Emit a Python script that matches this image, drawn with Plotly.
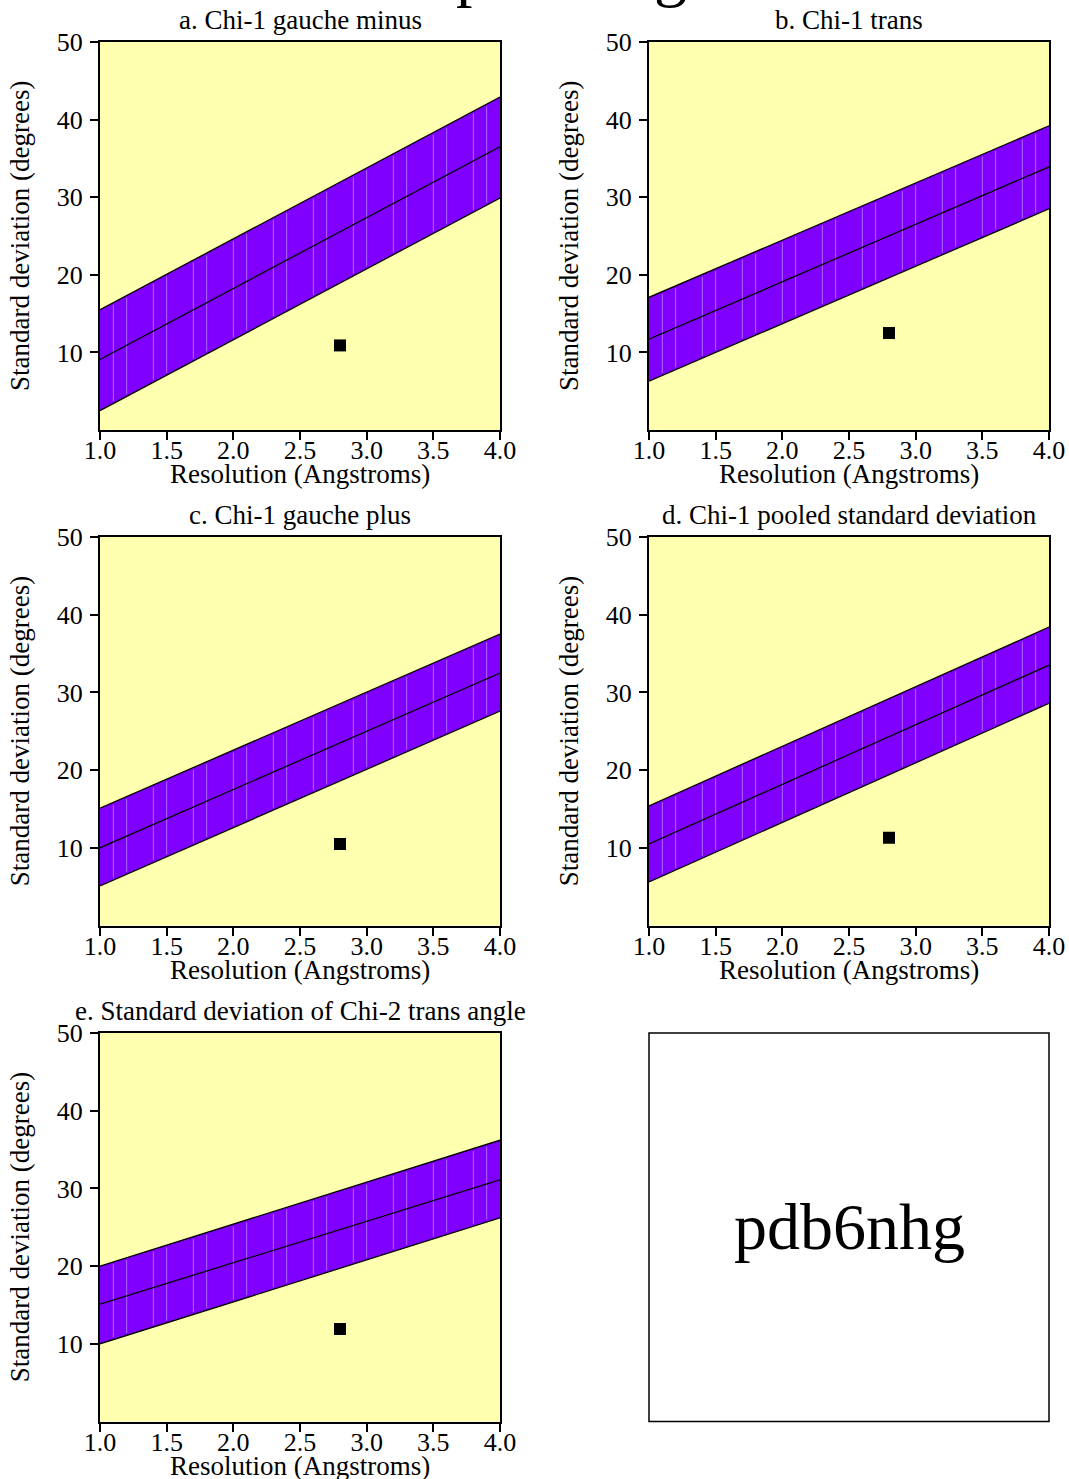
import plotly.graph_objects as go
import numpy as np

W, H = 1069, 1479

panel_titles = ["a. Chi-1 gauche minus", "b. Chi-1 trans", "c. Chi-1 gauche plus",
                "d. Chi-1 pooled standard deviation", "e. Standard deviation of Chi-2 trans angle"]
res_ends = [1.0, 4.0]
band_lower = [[2.5, 29.9], [6.3, 28.5], [5.1, 27.6], [5.6, 28.6], [10.0, 26.2]]
band_center = [[9.1, 36.5], [11.7, 33.9], [10.0, 32.5], [10.5, 33.5], [15.1, 31.1]]
band_upper = [[15.5, 42.9], [17.1, 39.2], [15.1, 37.5], [15.4, 38.4], [20.0, 36.2]]
point_res = [2.8, 2.8, 2.8, 2.8, 2.8]
point_sd = [10.9, 12.5, 10.5, 11.3, 11.9]
x_ticks = [1.0, 1.5, 2.0, 2.5, 3.0, 3.5, 4.0]
y_ticks = [10, 20, 30, 40, 50]
x_title = "Resolution (Angstroms)"
y_title = "Standard deviation (degrees)"
pdb_id = "pdb6nhg"

FONT = "Liberation Serif"
YELLOW = "#ffffb0"
VIOLET = "#8000ff"

# pixel boxes (left, right, top, bottom)
cols = [(100, 500), (649, 1049)]
rows = [(42, 430), (537, 925.5), (1033, 1421.5)]
boxes = [(cols[0], rows[0]), (cols[1], rows[0]), (cols[0], rows[1]), (cols[1], rows[1]), (cols[0], rows[2])]


def px(x):
    return x / W


def py(y):
    return 1 - y / H


fig = go.Figure()
annotations = []
for i in range(5):
    (l, r), (t, b) = boxes[i]
    n = "" if i == 0 else str(i + 1)
    xa, ya = "x" + n, "y" + n
    lo, ce, up = band_lower[i], band_center[i], band_upper[i]
    fig.add_trace(go.Scatter(x=res_ends, y=lo, mode="lines", line=dict(color="black", width=1.3),
                             xaxis=xa, yaxis=ya, showlegend=False, hoverinfo="skip"))
    fig.add_trace(go.Scatter(x=res_ends, y=up, mode="lines", line=dict(color="black", width=1.3),
                             fill="tonexty", fillcolor=VIOLET,
                             xaxis=xa, yaxis=ya, showlegend=False, hoverinfo="skip"))
    # faint seams between the band's drawn segments
    sx, sy = [], []
    for k in range(1, 30):
        if k % 3 == 0:
            continue
        xv = res_ends[0] + k * (res_ends[1] - res_ends[0]) / 30
        yl = np.interp(xv, res_ends, lo)
        yu = np.interp(xv, res_ends, up)
        sx += [xv, xv, None]
        sy += [yl + 0.3, yu - 0.3, None]
    fig.add_trace(go.Scatter(x=sx, y=sy, mode="lines", line=dict(color="rgba(185,140,255,0.75)", width=1),
                             xaxis=xa, yaxis=ya, showlegend=False, hoverinfo="skip"))
    fig.add_trace(go.Scatter(x=res_ends, y=ce, mode="lines", line=dict(color="black", width=1.3),
                             xaxis=xa, yaxis=ya, showlegend=False, hoverinfo="skip"))
    fig.add_trace(go.Scatter(x=[point_res[i]], y=[point_sd[i]], mode="markers",
                             marker=dict(symbol="square", size=12, color="black", line=dict(width=0)),
                             xaxis=xa, yaxis=ya, showlegend=False, hoverinfo="skip"))
    axcommon = dict(showline=True, linecolor="black", linewidth=2, mirror=True, showgrid=False,
                    zeroline=False, ticks="outside", ticklen=8, tickwidth=1.5, tickcolor="black",
                    automargin=False, tickfont=dict(family=FONT, size=26, color="black"))
    fig.update_layout(**{
        "xaxis" + n: dict(domain=[px(l), px(r)], anchor=ya, range=[1.0, 4.0], tickvals=x_ticks,
                          ticktext=[f"{v:.1f}" for v in x_ticks], ticklabelstandoff=-12, **axcommon),
        "yaxis" + n: dict(domain=[py(b), py(t)], anchor=xa, range=[0, 50], tickvals=y_ticks,
                          ticklabelstandoff=2, **axcommon),
    })
    fig.add_shape(type="rect", xref=xa + " domain", yref=ya + " domain", x0=0, x1=1, y0=0, y1=1,
                  fillcolor=YELLOW, line=dict(width=0), layer="below")
    annotations.append(dict(text=panel_titles[i], xref="paper", yref="paper",
                            x=px((l + r) / 2), y=py(t - 22), xanchor="center", yanchor="middle",
                            showarrow=False, font=dict(family=FONT, size=27, color="black")))
    annotations.append(dict(text=x_title, xref="paper", yref="paper",
                            x=px((l + r) / 2), y=py(b + 44), xanchor="center", yanchor="middle",
                            showarrow=False, font=dict(family=FONT, size=27, color="black")))
    annotations.append(dict(text=y_title, xref="paper", yref="paper", textangle=-90,
                            x=px(l - 80), y=py((t + b) / 2), xanchor="center", yanchor="middle",
                            showarrow=False, font=dict(family=FONT, size=27, color="black")))

# panel f: box with the entry id
fig.add_shape(type="rect", xref="paper", yref="paper", x0=px(649), x1=px(1049), y0=py(1421.5), y1=py(1033),
              line=dict(color="black", width=1.5), fillcolor="white")
annotations.append(dict(text=pdb_id, xref="paper", yref="paper", x=px(849), y=py(1226),
                        xanchor="center", yanchor="middle", showarrow=False,
                        font=dict(family=FONT, size=66, color="black")))
# page title, mostly cut off at the top edge
annotations.append(dict(text=pdb_id, xref="paper", yref="paper", x=px(571), y=py(-29),
                        xanchor="center", yanchor="middle", showarrow=False,
                        font=dict(family=FONT, size=66, color="black")))

fig.update_layout(width=W, height=H, margin=dict(l=0, r=0, t=0, b=0),
                  paper_bgcolor="white", plot_bgcolor="rgba(0,0,0,0)",
                  annotations=annotations, font=dict(family=FONT, color="black"))
fig.write_html("out.html", config={"displayModeBar": False},
               post_script="document.body.style.margin='0px';document.body.style.overflow='hidden';")
